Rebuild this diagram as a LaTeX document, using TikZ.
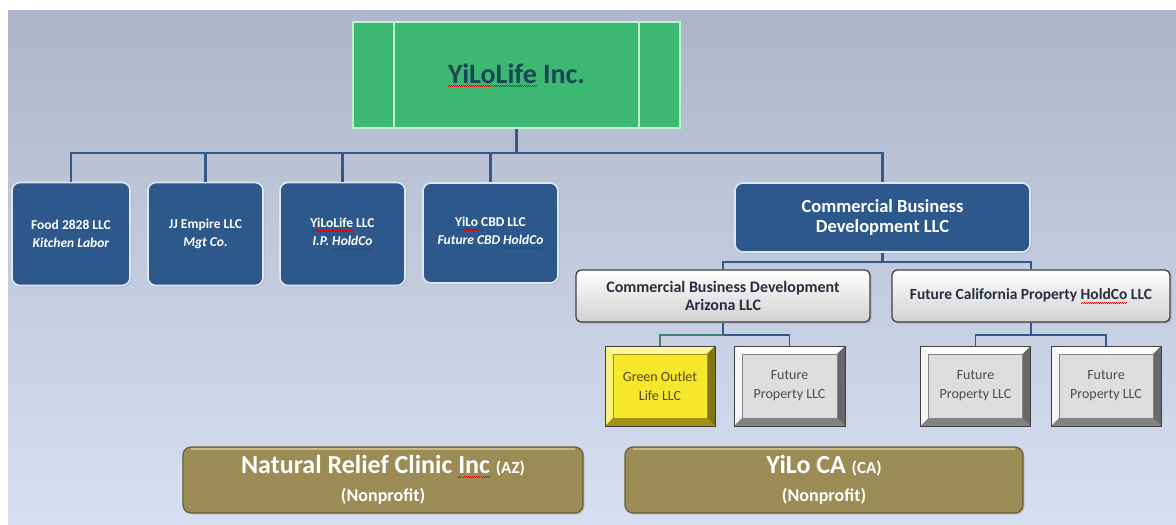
\documentclass[tikz,border=0pt]{standalone}
\usepackage{fontspec}
\setmainfont{Carlito}
\usetikzlibrary{shadows}
\newsavebox\sqbox
\newcommand\redsq[1]{\sbox\sqbox{#1}\leavevmode\rlap{\raisebox{-3.5pt}{\color{red!85!black}\hbox to \wd\sqbox{\xleaders\hbox{\rule[0pt]{1pt}{0.6pt}\rule[0.8pt]{1pt}{0.6pt}}\hfill}}}#1}
\definecolor{bgtop}{RGB}{172,182,200}
\definecolor{bgbot}{RGB}{214,224,242}
\definecolor{connc}{RGB}{52,88,140}
\definecolor{conng}{RGB}{60,130,110}
\definecolor{boxblue}{RGB}{44,88,140}
\definecolor{boxedge}{RGB}{222,232,244}
\definecolor{topgreen}{RGB}{60,184,115}
\definecolor{topedge}{RGB}{185,245,205}
\definecolor{toptext}{RGB}{25,70,85}
\definecolor{olive}{RGB}{155,140,85}
\definecolor{olivedark}{RGB}{105,94,52}
\definecolor{olivelight}{RGB}{200,188,135}
\definecolor{graytext}{RGB}{40,46,62}
\definecolor{yface}{RGB}{246,231,42}
\definecolor{ylight}{RGB}{252,246,160}
\definecolor{ydark}{RGB}{160,146,24}
\definecolor{ytext}{RGB}{80,72,20}
\definecolor{gface}{RGB}{222,222,222}
\definecolor{glight}{RGB}{255,255,255}
\definecolor{gdark}{RGB}{130,130,130}
\tikzset{
  conn/.style={draw=connc, line width=2.2pt},
  topbox/.style={rectangle, fill=topgreen, draw=topedge, line width=1.6pt,
    text=toptext, font=\fontsize{28}{32}\selectfont\bfseries},
  bluebox/.style={rectangle, rounded corners=8pt, fill=boxblue, draw=boxedge,
    line width=1.6pt, text=white, align=center,
    font=\fontsize{13.5}{18}\selectfont\bfseries,
    drop shadow={shadow xshift=1.5pt, shadow yshift=-1.5pt, opacity=0.25}},
  graybox/.style={rectangle, rounded corners=5pt, top color=white, bottom color=black!18,
    draw=black!75, line width=1.3pt, text=graytext, align=center,
    font=\fontsize{16}{18.5}\selectfont\bfseries,
    drop shadow={shadow xshift=1.5pt, shadow yshift=-1.5pt, opacity=0.3}},
  bevelbox/.style n args={4}{rectangle, fill=#1, draw=black!75, line width=1pt,
    text=#4, align=center, font=\fontsize{14}{19}\selectfont,
    path picture={
      \fill[#2] (path picture bounding box.north west) -- (path picture bounding box.north east)
        -- ([shift={(-8pt,-8pt)}]path picture bounding box.north east)
        -- ([shift={(8pt,-8pt)}]path picture bounding box.north west) -- cycle;
      \fill[#2!70!#1] (path picture bounding box.north west) -- (path picture bounding box.south west)
        -- ([shift={(8pt,8pt)}]path picture bounding box.south west)
        -- ([shift={(8pt,-8pt)}]path picture bounding box.north west) -- cycle;
      \fill[#3] (path picture bounding box.south west) -- (path picture bounding box.south east)
        -- ([shift={(-8pt,8pt)}]path picture bounding box.south east)
        -- ([shift={(8pt,8pt)}]path picture bounding box.south west) -- cycle;
      \fill[#3!80!black] (path picture bounding box.north east) -- (path picture bounding box.south east)
        -- ([shift={(-8pt,8pt)}]path picture bounding box.south east)
        -- ([shift={(-8pt,-8pt)}]path picture bounding box.north east) -- cycle;
      \draw[#3, line width=0.6pt] ([shift={(8pt,-8pt)}]path picture bounding box.north west)
        rectangle ([shift={(-8pt,8pt)}]path picture bounding box.south east);
    }},
  olivebox/.style={rectangle, rounded corners=8pt, fill=olive, draw=olivedark,
    line width=1.2pt, text=white, align=center,
    font=\fontsize{26}{28}\selectfont\bfseries,
    drop shadow={shadow xshift=1.5pt, shadow yshift=-1.5pt, opacity=0.3}},
}
\begin{document}
\begin{tikzpicture}[x=1pt,y=-1pt]
\useasboundingbox (0,0) rectangle (1176,525);
\fill[white] (0,0) rectangle (1176,525);
\shade[top color=bgtop, bottom color=bgbot] (8,10) rectangle (1176,525);

% top
\node[topbox, minimum width=327pt, minimum height=106pt] (top) at (516.5,75) {\redsq{YiLoLife} Inc.};
\draw[topedge, line width=1.6pt] ([xshift=42pt]top.north west) -- ([xshift=42pt]top.south west);
\draw[topedge, line width=1.6pt] ([xshift=-42pt]top.north east) -- ([xshift=-42pt]top.south east);

% level 1
\node[bluebox, minimum width=118pt, minimum height=103pt] (food) at (71,234) {Food 2828 LLC\\\textit{Kitchen Labor}};
\node[bluebox, minimum width=115pt, minimum height=103pt] (jj) at (205.5,234) {JJ Empire LLC\\\textit{Mgt Co.}};
\node[bluebox, minimum width=125pt, minimum height=103pt] (yll) at (342.5,234) {\redsq{YiLoLife} LLC\\\textit{I.P. \redsq{HoldCo}}};
\node[bluebox, minimum width=135pt, minimum height=100pt] (cbd) at (490.5,233) {\redsq{YiLo} CBD LLC\\\textit{Future CBD \redsq{HoldCo}}};
\node[bluebox, minimum width=295pt, minimum height=69pt, font=\fontsize{18.5}{19.5}\selectfont\bfseries] (cbdl) at (882.5,217.5) {Commercial Business\\Development LLC};

\coordinate (bus1) at (516.5,153);
\draw[conn] (top.south) -- (bus1);
\draw[conn] (food.north) |- (bus1) -| (cbdl.north);
\draw[conn] (jj.north) -- (jj.north |- bus1);
\draw[conn] (yll.north) -- (yll.north |- bus1);
\draw[conn] (cbd.north) -- (cbd.north |- bus1);

% level 2
\node[graybox, minimum width=294pt, minimum height=52pt] (cbaz) at (723,296) {Commercial Business Development\\Arizona LLC};
\node[graybox, minimum width=278pt, minimum height=52pt, font=\fontsize{15.5}{18}\selectfont\bfseries] (fcal) at (1031,296) {Future California Property \redsq{HoldCo} LLC};
\coordinate (bus2) at (882.5,262);
\draw[conn] (cbdl.south) -- (bus2);
\draw[conn] (cbaz.north) |- (bus2) -| (fcal.north);

% level 3
\node[bevelbox={yface}{ylight}{ydark}{ytext}, minimum width=110pt, minimum height=80pt] (gol) at (660,386) {Green Outlet\\Life LLC};
\node[bevelbox={gface}{glight}{gdark}{black!70}, minimum width=111pt, minimum height=80pt] (fp1) at (789.5,386) {Future\\Property LLC};
\node[bevelbox={gface}{glight}{gdark}{black!70}, minimum width=110pt, minimum height=80pt] (fp2) at (975.5,386) {Future\\Property LLC};
\node[bevelbox={gface}{glight}{gdark}{black!70}, minimum width=110pt, minimum height=80pt] (fp3) at (1106,386) {Future\\Property LLC};
\coordinate (bus3) at (723,335);
\coordinate (bus4) at (1031,335);
\draw[conn, line width=1.8pt] (cbaz.south) -- (bus3);
\draw[conn, draw=conng, line width=1.8pt] (gol.north) |- (bus3);
\draw[conn, line width=1.8pt] (bus3) -| (fp1.north);
\draw[conn, line width=1.8pt] (fcal.south) -- (bus4);
\draw[conn, line width=1.8pt] (fp2.north) |- (bus4) -| (fp3.north);

% bottom
\node[olivebox, minimum width=400pt, minimum height=66pt] (nrc) at (383,480) {Natural Relief Clinic \redsq{Inc} {\fontsize{17}{20}\selectfont(AZ)}\\{\fontsize{18}{20}\selectfont(Nonprofit)}};
\node[olivebox, minimum width=398pt, minimum height=66pt] (yca) at (824,480) {YiLo CA {\fontsize{17}{20}\selectfont(CA)}\\{\fontsize{18}{20}\selectfont(Nonprofit)}};
\draw[olivelight, line width=2pt] ([shift={(9pt,-3pt)}]nrc.north west) -- ([shift={(-9pt,-3pt)}]nrc.north east);
\draw[olivelight, line width=2pt] ([shift={(9pt,-3pt)}]yca.north west) -- ([shift={(-9pt,-3pt)}]yca.north east);
\end{tikzpicture}
\end{document}
